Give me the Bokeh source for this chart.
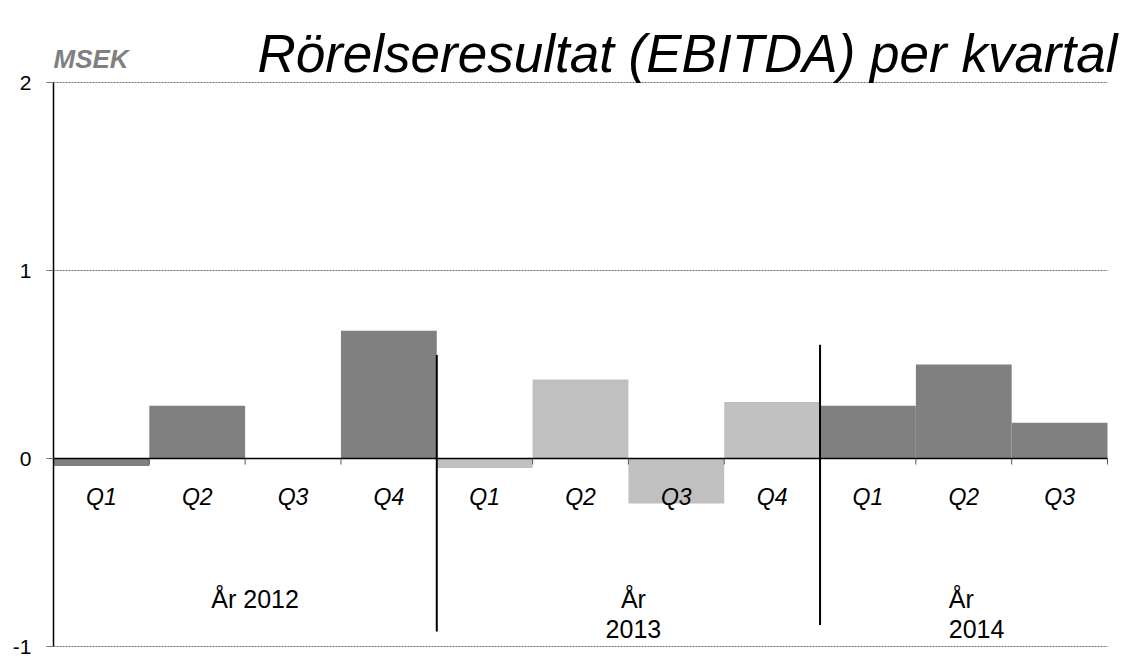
from bokeh.plotting import figure
from bokeh.models import ColumnDataSource, Range1d, FixedTicker
from bokeh.embed import file_html
from bokeh.resources import INLINE
from bokeh.core.properties import value

# ---------------- data ----------------
title_text = "Rörelseresultat (EBITDA) per kvartal"
unit_text = "MSEK"
years = ["2012", "2013", "2014"]
year_label_lines = [["År 2012"], ["År", "2013"], ["År", "2014"]]
quarters = ["Q1", "Q2", "Q3", "Q4", "Q1", "Q2", "Q3", "Q4", "Q1", "Q2", "Q3"]
quarter_years = ["2012", "2012", "2012", "2012",
                 "2013", "2013", "2013", "2013",
                 "2014", "2014", "2014"]
ebitda = [-0.04, 0.28, 0.0, 0.68, -0.05, 0.42, -0.24, 0.30, 0.28, 0.50, 0.19]
y_ticks = [-1, 0, 1, 2]
y_tick_labels = {-1: "-1", 0: "0", 1: "1", 2: "2"}

# ---------------- style / layout ----------------
FONT = "Liberation Sans"
year_colors = {"2012": "#808080", "2013": "#c0c0c0", "2014": "#808080"}
year_label_dx = [10, 5, -15]
year_label_align = ["center", "center", "left"]
separator_extent = [(0.55, -0.92), (0.605, -0.885)]

W, H = 1120, 659
PLOT_LEFT, PLOT_RIGHT = 53, 1107          # pixel columns of the category axis ends
TOP_TICK_PX, BOTTOM_TICK_PX = 82, 646     # pixel rows of the top / bottom ticks
BOTTOM_PAD = 3                            # frame extends a little below the bottom tick

n = len(quarters)
px_per_cat = (PLOT_RIGHT - PLOT_LEFT) / n
px_per_unit = (BOTTOM_TICK_PX - TOP_TICK_PX) / (y_ticks[-1] - y_ticks[0])
x_end = n + (W - PLOT_RIGHT) / px_per_cat              # room on the right for the title
y_end = y_ticks[-1] + TOP_TICK_PX / px_per_unit         # room above for title and unit
y_start = y_ticks[0] - BOTTOM_PAD / px_per_unit

xs = [i + 0.5 for i in range(n)]
colors = [year_colors[y] for y in quarter_years]
src = ColumnDataSource(dict(x=xs, top=ebitda, q=quarters, color=colors))

p = figure(width=W, height=H, output_backend="svg", toolbar_location=None,
           x_range=Range1d(0, x_end), y_range=Range1d(y_start, y_end),
           x_axis_location=None, min_border_left=PLOT_LEFT, min_border_right=0,
           min_border_top=0, min_border_bottom=H - BOTTOM_TICK_PX - BOTTOM_PAD)
p.outline_line_color = None
p.background_fill_color = "white"

# grid
p.xgrid.visible = False
p.ygrid.ticker = FixedTicker(ticks=y_ticks)
p.ygrid.grid_line_color = "#6e6e6e"
p.ygrid.grid_line_dash = "2 1"
p.ygrid.grid_line_width = 1
if "cross_bounds" in p.ygrid[0].properties():
    p.ygrid.cross_bounds = (0, n)

# y axis
p.yaxis.ticker = FixedTicker(ticks=y_ticks)
p.yaxis.bounds = (y_ticks[0], y_ticks[-1])
p.yaxis.major_label_overrides = y_tick_labels
p.yaxis.axis_line_color = "black"
p.yaxis.axis_line_width = 1.5
p.yaxis.major_tick_out = 7
p.yaxis.major_tick_in = 0
p.yaxis.major_tick_line_color = "#777777"
p.yaxis.minor_tick_line_color = None
p.yaxis.major_label_standoff = 15
p.yaxis.major_label_text_font = FONT
p.yaxis.major_label_text_font_size = "21px"
p.yaxis.major_label_text_color = "black"

# bars
p.vbar(x="x", top="top", bottom=0, width=1.0, fill_color="color", line_color=None, source=src)

# zero line across the categories
p.segment(x0=[0], y0=[0], x1=[n], y1=[0], line_color="black", line_width=1.5)

# small category ticks below zero line
bx = [i + 1 for i in range(n)]
p.segment(x0=bx, y0=[0] * n, x1=bx, y1=[-0.032] * n, line_color="#555555", line_width=1)

# quarter labels
p.text(x="x", y=0, text="q", source=src, text_font=value(FONT), text_font_style="italic",
       text_font_size="23px", text_align="center", text_baseline="alphabetic",
       y_offset=38, text_color="black")

# groups
starts = []
counts = []
for y in years:
    idx = [i for i, qy in enumerate(quarter_years) if qy == y]
    starts.append(idx[0])
    counts.append(len(idx))

for gi, lines in enumerate(year_label_lines):
    cx = starts[gi] + counts[gi] / 2.0
    for li, line in enumerate(lines):
        p.text(x=[cx], y=[0], text=[line], text_font=value(FONT), text_font_size="25px",
               text_align=year_label_align[gi], text_baseline="alphabetic",
               x_offset=year_label_dx[gi], y_offset=140 + 30 * li, text_color="black")

# separators between years
for gi in range(1, len(years)):
    sx = starts[gi]
    top, bot = separator_extent[gi - 1]
    p.segment(x0=[sx], y0=[top], x1=[sx], y1=[bot], line_color="black", line_width=2)

# title and unit
p.text(x=[n], y=[y_ticks[-1]], text=[title_text], x_offset=10, y_offset=-29,
       text_font=value(FONT), text_font_style="italic", text_font_size="53px",
       text_align="right", text_baseline="alphabetic", text_color="black")
p.text(x=[0], y=[y_ticks[-1]], text=[unit_text], x_offset=0, y_offset=-24,
       text_font=value(FONT), text_font_style="bold italic", text_font_size="26px",
       text_align="left", text_baseline="alphabetic", text_color="#808080")

open("out.html", "w").write(file_html(p, INLINE))
